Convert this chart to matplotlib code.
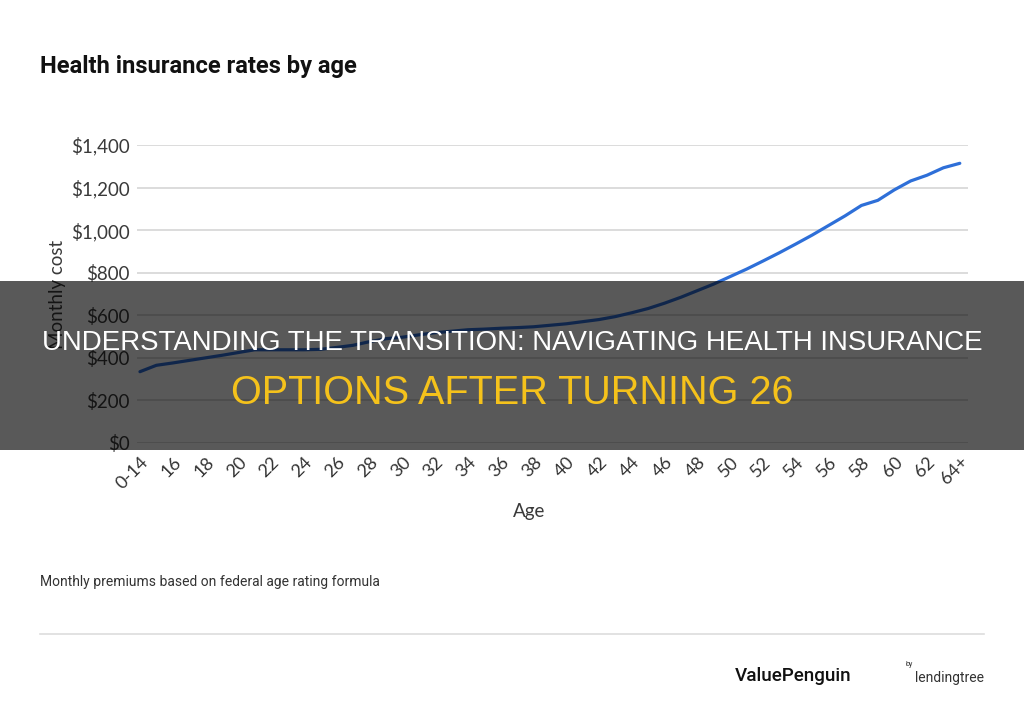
import matplotlib
matplotlib.use("Agg")
import matplotlib.pyplot as plt
from matplotlib.patches import Rectangle
from matplotlib.lines import Line2D

# age bands on the x axis
ages = ["0-14"] + [str(a) for a in range(15, 64)] + ["64+"]

# monthly premium ($)
monthly_cost = [335, 365, 376, 388, 400, 412, 425, 438, 438, 438,
                438, 440, 449, 459, 476, 490, 497, 508, 518, 525,
                532, 535, 539, 542, 546, 553, 560, 570, 580, 594,
                612, 632, 657, 685, 716, 747, 782, 817, 855, 894,
                935, 977, 1022, 1067, 1116, 1140, 1189, 1231, 1258, 1293,
                1314]

y_ticks = [0, 200, 400, 600, 800, 1000, 1200, 1400]

W, H = 1024, 708
fig = plt.figure(figsize=(W / 100, H / 100), dpi=100)
fig.patch.set_facecolor("white")

# plot area in pixel coords of the reference
ax = fig.add_axes([137 / W, 1 - 443 / H, 831 / W, 298 / H])
x = list(range(len(ages)))
ax.plot(x, monthly_cost, color="#2e6fd8", lw=2.3, solid_capstyle="round", zorder=3)

ax.set_xlim(-0.18, 50.5)
ax.set_ylim(0, 1400)
ax.set_yticks(y_ticks)
ax.set_yticklabels(["${:,}".format(v) for v in y_ticks],
                   fontfamily="Lato", fontsize=13.5, color="#3a3a3a")
ax.set_xticks(x[::2])
ax.set_xticklabels(ages[::2], rotation=45, ha="right", va="top",
                   rotation_mode="anchor", fontfamily="Lato",
                   fontsize=13, color="#333333")
ax.tick_params(axis="y", length=0, pad=5)
ax.tick_params(axis="x", length=0, pad=8)
ax.grid(axis="y", color="#d9d9d9", lw=1.3)
ax.set_axisbelow(True)
for s in ax.spines.values():
    s.set_visible(False)

fig.text(58 / W, 1 - 294 / H, "Monthly cost", rotation=90, ha="center", va="center",
         fontfamily="Lato", fontsize=13.5, color="#3a3a3a")
fig.text(529 / W, 1 - 511 / H, "Age", ha="center", va="center",
         fontfamily="Lato", fontsize=13.5, color="#3a3a3a")

# title and footer
fig.text(40 / W, 1 - 67 / H, "Health insurance rates by age", ha="left", va="center",
         fontfamily="Roboto", fontweight="bold", fontsize=17.1, color="#111111")
fig.text(40 / W, 1 - 582 / H, "Monthly premiums based on federal age rating formula",
         ha="left", va="center", fontfamily="Roboto", fontsize=10, color="#333333")
fig.add_artist(Line2D([40 / W, 984 / W], [1 - 634 / H, 1 - 634 / H],
                      color="#dddddd", lw=1.2))
fig.text(735 / W, 1 - 676 / H, "ValuePenguin", ha="left", va="center",
         fontfamily="Roboto", fontweight="medium", fontsize=13.6, color="#111111")
fig.text(905 / W, 1 - 664 / H, "by", ha="left", va="center",
         fontfamily="Roboto", fontsize=5, color="#333333")
fig.text(915 / W, 1 - 678 / H, "lendingtree", ha="left", va="center",
         fontfamily="Roboto", fontsize=10, color="#333333")

# dark banner over the chart
fig.add_artist(Rectangle((0, 1 - 450 / H), 1, 169 / H, transform=fig.transFigure,
                         facecolor="black", alpha=0.65, edgecolor="none", zorder=10))
fig.text(0.5, 1 - 343 / H,
         "UNDERSTANDING THE TRANSITION: NAVIGATING HEALTH INSURANCE",
         ha="center", va="center", fontfamily="Liberation Sans", fontsize=19.9,
         color="white", zorder=11)
fig.text(0.5, 1 - 393 / H, "OPTIONS AFTER TURNING 26",
         ha="center", va="center", fontfamily="Liberation Sans", fontsize=28.5,
         color="#f5c21b", zorder=11)

fig.savefig("out.png", dpi=100)
